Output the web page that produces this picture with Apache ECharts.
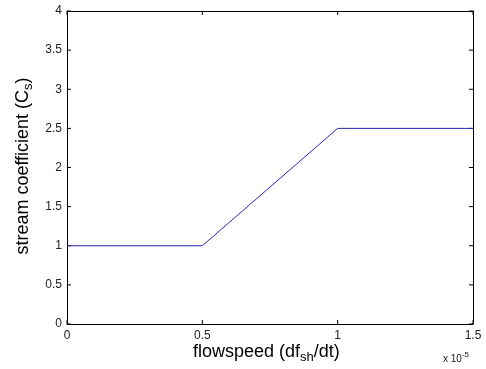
<!DOCTYPE html>
<html>
<head>
<meta charset="utf-8">
<script src="https://cdn.jsdelivr.net/npm/echarts@6/dist/echarts.min.js"></script>
<style>
  html, body { margin: 0; padding: 0; background: #fff; }
  #chart { width: 486px; height: 369px; }
</style>
</head>
<body>
<div id="chart"></div>
<script>
// flowspeed in units of 1e-5
const flowspeed = [0, 0.5, 1, 1.5];
const streamCoef = [1, 1, 2.5, 2.5];

const xTicks = [0, 0.5, 1, 1.5];
const yTicks = [0, 0.5, 1, 1.5, 2, 2.5, 3, 3.5, 4];

const font = "Liberation Sans, Arial, sans-serif";
const TICK = 4;

const myChart = echarts.init(document.getElementById("chart"));

const xMin = xTicks[0], xMax = xTicks[xTicks.length - 1];
const yMin = yTicks[0], yMax = yTicks[yTicks.length - 1];

function frameAxis(extra) {
	return {
		type: "value",
		interval: 0.5,
		axisLine: { show: true, onZero: false, lineStyle: { color: "#000", width: 1 } },
		axisTick: { show: false },
		splitLine: { show: false },
		...extra
	};
}

const tickLabel = {
	color: "#222",
	fontFamily: font,
	fontSize: 12,
	formatter: v => String(v)
};

// little inward ticks on all four sides, MATLAB style
function tickSeries(values, horizontal) {
	return {
		type: "custom",
		silent: true,
		clip: false,
		data: values,
		renderItem(params, api) {
			const v = api.value(0);
			let a, b;
			if (horizontal) {
				a = api.coord([v, yMin]);
				b = api.coord([v, yMax]);
			} else {
				a = api.coord([xMin, v]);
				b = api.coord([xMax, v]);
			}
			const style = { stroke: "#000", lineWidth: 1 };
			const seg = horizontal
				? [[a[0], a[1], a[0], a[1] - TICK], [b[0], b[1], b[0], b[1] + TICK]]
				: [[a[0], a[1], a[0] + TICK, a[1]], [b[0], b[1], b[0] - TICK, b[1]]];
			return {
				type: "group",
				children: seg.map(s => ({
					type: "line",
					shape: { x1: s[0], y1: s[1], x2: s[2], y2: s[3] },
					style
				}))
			};
		}
	};
}

const option = {
	animation: false,
	grid: { left: 67, right: 13, top: 11, bottom: 45 },
	xAxis: [
		frameAxis({ min: xMin, max: xMax, axisLabel: { ...tickLabel, margin: 6 } }),
		frameAxis({ min: xMin, max: xMax, position: "top", axisLabel: { show: false } })
	],
	yAxis: [
		frameAxis({ min: yMin, max: yMax, axisLabel: { ...tickLabel, margin: 5 } }),
		frameAxis({ min: yMin, max: yMax, position: "right", axisLabel: { show: false } })
	],
	graphic: [
		{
			type: "text",
			left: 193,
			top: 343,
			style: {
				text: "flowspeed (df{sub|sh}/dt)",
				font: "18px " + font,
				fill: "#000",
				rich: {
					sub: { font: "13px " + font, padding: [11, 0, 0, 0], fill: "#000" }
				}
			}
		},
		{
			type: "text",
			x: 23,
			y: 166,
			rotation: Math.PI / 2,
			style: {
				text: "stream coefficient (C{sub|s})",
				font: "18px " + font,
				fill: "#000",
				align: "center",
				verticalAlign: "middle",
				rich: {
					sub: { font: "13px " + font, padding: [11, 0, 0, 0], fill: "#000" }
				}
			}
		},
		{
			type: "text",
			left: 443,
			top: 351,
			style: {
				text: "x 10{sup|-5}",
				font: "10px " + font,
				fill: "#222",
				rich: {
					sup: { font: "8px " + font, padding: [0, 0, 8, 0], fill: "#222" }
				}
			}
		}
	],
	series: [
		{
			type: "line",
			data: flowspeed.map((x, i) => [x, streamCoef[i]]),
			showSymbol: false,
			lineStyle: { color: "#2a2ab8", width: 1 },
			silent: true
		},
		tickSeries(xTicks, true),
		tickSeries(yTicks, false)
	]
};

myChart.setOption(option);
</script>
</body>
</html>
